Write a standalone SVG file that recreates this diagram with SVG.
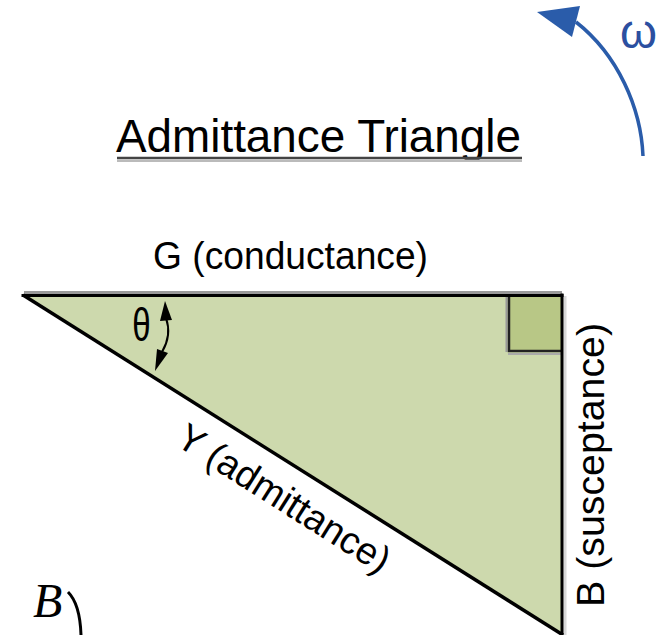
<svg xmlns="http://www.w3.org/2000/svg" width="659" height="635" viewBox="0 0 659 635">
<style>
.lbl{font-family:"Liberation Sans",Arial,sans-serif;fill:#000}
.edge{stroke:#000;stroke-width:3;fill:none;stroke-linecap:square}
.shade{stroke:#999;stroke-width:3;fill:none}
.shade2{stroke:#d8d8d8;stroke-width:3;fill:none}
</style>
<rect width="659" height="635" fill="#fff"/>
<g id="title">
<text class="lbl" x="116" y="152" font-size="46" textLength="405" lengthAdjust="spacingAndGlyphs">Admittance Triangle</text>
<line x1="117" y1="158" x2="522" y2="158" stroke="#444" stroke-width="2.6"/>
<line x1="117" y1="160.8" x2="522" y2="160.8" stroke="#bbb" stroke-width="2.6"/>
</g>
<g id="omega-arrow">
<path d="M643,156 C641,108 618,55 576,22" fill="none" stroke="#2a5caa" stroke-width="3.5"/>
<polygon points="537,12 580,6 572,37" fill="#2a5caa"/>
<text x="620" y="48" font-family="Liberation Sans,Arial,sans-serif" font-size="48" fill="#2b4fa0" textLength="37" lengthAdjust="spacingAndGlyphs">ω</text>
</g>
<g id="triangle">
<polygon points="23,295 562,295 562,634" fill="#cdd9ad"/>
<line class="shade" x1="24" y1="292.5" x2="562" y2="292.5"/>
<line class="shade2" x1="565" y1="296" x2="565" y2="635"/>
<rect id="right-angle" x="509" y="296" width="52" height="55" fill="#b8c786"/>
<line x1="506.5" y1="297" x2="506.5" y2="352" stroke="#999" stroke-width="2"/>
<line x1="508" y1="354" x2="561" y2="354" stroke="#aaa" stroke-width="2"/>
<polyline points="509,296 509,351 561,351" fill="none" stroke="#222" stroke-width="2.5"/>
<line class="edge" x1="23" y1="295.5" x2="562" y2="295.5"/>
<line class="edge" x1="562" y1="295" x2="562" y2="635"/>
<line x1="23" y1="295" x2="563" y2="635" stroke="#000" stroke-width="3.5"/>
</g>
<g id="labels">
<text class="lbl" x="153" y="269" font-size="38" textLength="275" lengthAdjust="spacingAndGlyphs">G (conductance)</text>
<text class="lbl" x="604" y="607" font-size="38" textLength="284" lengthAdjust="spacingAndGlyphs" transform="rotate(-90 604 607)">B (susceptance)</text>
<text class="lbl" x="174" y="444" font-size="38" textLength="244" lengthAdjust="spacingAndGlyphs" transform="rotate(32.3 174 444)">Y (admittance)</text>
<text class="lbl" x="0" y="0" font-size="46" text-anchor="middle" transform="translate(141.5 341) scale(0.72 1)">θ</text>
</g>
<g id="theta-arrow">
<path d="M166,318 Q172,335 162,352" fill="none" stroke="#000" stroke-width="2"/>
<polygon points="165,301 160,321 172,320" fill="#000"/>
<polygon points="155,371 157,349 168,353" fill="#000"/>
</g>
<g id="B-fragment">
<text x="33" y="617" font-family="Liberation Serif,Times New Roman,serif" font-style="italic" font-size="48" fill="#000">B</text>
<path d="M68,592 Q80,604 81,635" fill="none" stroke="#000" stroke-width="3"/>
</g>
</svg>
